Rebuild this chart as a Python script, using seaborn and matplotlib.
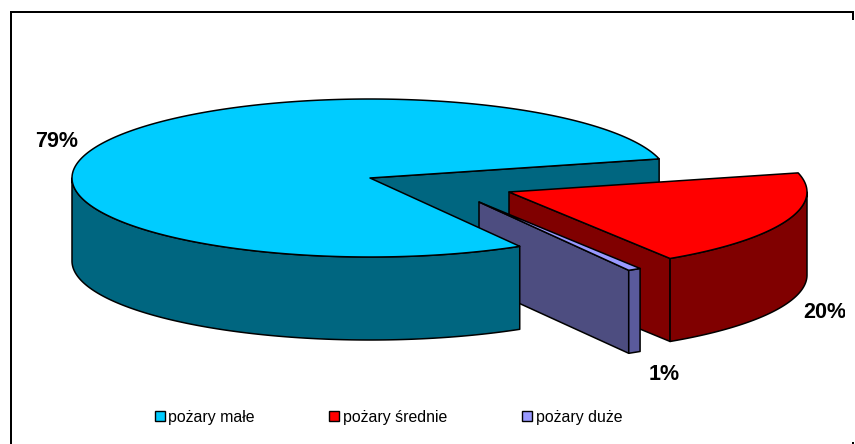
import numpy as np
import matplotlib
matplotlib.use("Agg")
import matplotlib.pyplot as plt
from matplotlib.patches import Polygon, Patch
from matplotlib.transforms import Bbox
import seaborn as sns

categories = ["pożary małe", "pożary średnie", "pożary duże"]
shares = [79.49, 19.8, 0.71]
top_colors = ["#00CCFF", "#FF0000", "#9999FF"]
side_colors = ["#006680", "#800000", "#4D4D80"]

sns.set_style("white")
plt.rcParams["font.family"] = ["Liberation Sans", "DejaVu Sans"]

W, H = 855, 444
fig = plt.figure(figsize=(W / 100, H / 100), dpi=100, facecolor="white")
ax = fig.add_axes([0, 0, 1, 1])
ax.set_xlim(0, W)
ax.set_ylim(H, 0)
ax.axis("off")

# 3-D pie geometry (pixels)
CX, CY, RX, RY, DEPTH = 370, 178, 298, 79, 83
START = 14.0
offsets = [(0, 0), (139, 14), (109, 24)]
EDGE = dict(edgecolor="black", linewidth=1.1, joinstyle="round")


def rim(cx, cy, t0, t1, dz=0):
    t = np.radians(np.linspace(t0, t1, max(int(abs(t1 - t0) * 2), 2)))
    return np.column_stack([cx + RX * np.cos(t), cy - RY * np.sin(t) + dz])


def add(pts, color, z):
    ax.add_patch(Polygon(pts, closed=True, facecolor=color, zorder=z, **EDGE))


def wall(cx, cy, t, color, z):
    p = rim(cx, cy, t, t)[0]
    add([(cx, cy), p, p + (0, DEPTH), (cx, cy + DEPTH)], color, z)


def outer(cx, cy, t0, t1, color, z):
    upper = rim(cx, cy, t0, t1)
    lower = rim(cx, cy, t1, t0, DEPTH)
    add(np.vstack([upper, lower]), color, z)


def top(cx, cy, t0, t1, color, z):
    add(np.vstack([[(cx, cy)], rim(cx, cy, t0, t1)]), color, z)


spans = np.array(shares) / sum(shares) * 360
a0 = START
a_main = a0 + spans[0]                # 1st slice runs counter-clockwise
a_red = a0 - spans[1]                 # 2nd runs clockwise from the same start
a_blue = a_red - spans[2]

# main slice: rear cut wall first, front goes over the others
wall(CX, CY, a0, side_colors[0], 1)
outer(CX, CY, 180, a_main, side_colors[0], 8)
top(CX, CY, a0, a_main, top_colors[0], 9)

# medium slice
rx, ry = CX + offsets[1][0], CY + offsets[1][1]
wall(rx, ry, a_red, side_colors[1], 2)
outer(rx, ry, 0, a_red, side_colors[1], 2)
top(rx, ry, a0, a_red, top_colors[1], 3)

# small slice
bx, by = CX + offsets[2][0], CY + offsets[2][1]
wall(bx, by, a_blue, side_colors[2], 4)
outer(bx, by, a_red, a_blue, "#5A5A9C", 4)
top(bx, by, a_red, a_blue, top_colors[2], 5)

# data labels (the reference clips the right-hand label at x = 845)
label_xy = [(57, 141), (825, 312), (664, 374)]
for v, (x, y) in zip(shares, label_xy):
    t = ax.text(x, y, f"{v:.0f}%", ha="center", va="center", fontsize=15.5,
                fontweight="bold", color="black", zorder=12)
    t.set_clip_box(Bbox([[0, 0], [845, H]]))
    t.set_clip_on(True)

# frame (left + top, short stub at the right, dot at the lower right)
ax.plot([11, 11, 853, 853], [H, 12, 12, 20], color="black", lw=1.44,
        solid_joinstyle="miter", solid_capstyle="butt", zorder=12)
ax.plot([853, 853], [442, H], color="black", lw=1.44, solid_capstyle="butt", zorder=12)

handles = [Patch(facecolor=c, edgecolor="black", linewidth=1.0) for c in top_colors]
ax.legend(handles, categories, ncol=3, loc="center", bbox_to_anchor=(388.5 / W, 1 - 417 / H),
          frameon=False, fontsize=11.4, handlelength=0.63, handleheight=0.63,
          handletextpad=0.25, columnspacing=4.7, labelcolor="black")

fig.savefig("out.png", dpi=100, facecolor="white")
